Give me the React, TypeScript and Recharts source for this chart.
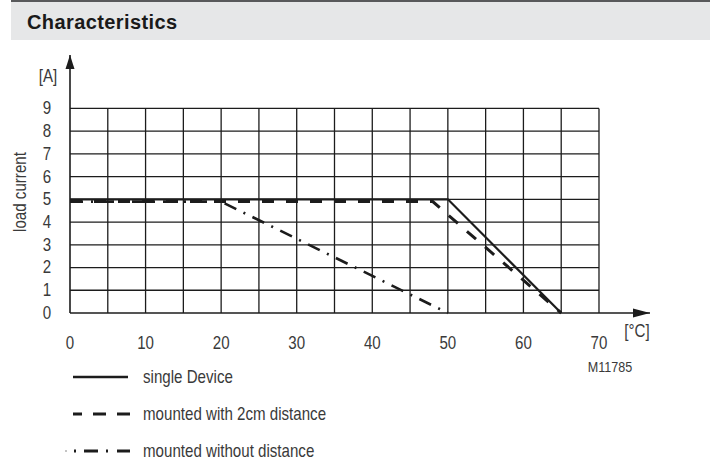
import { Legend, Line, LineChart, ReferenceDot, ReferenceLine, XAxis, YAxis } from "recharts";

// temperature ticks [°C] and current ticks [A]
const tempTicks = [0, 10, 20, 30, 40, 50, 60, 70];
const currentTicks = [0, 1, 2, 3, 4, 5, 6, 7, 8, 9];
const gridTemps = [5, 10, 15, 20, 25, 30, 35, 40, 45, 50, 55, 60, 65, 70];
const gridCurrents = [1, 2, 3, 4, 5, 6, 7, 8, 9];

// derating curves: t = ambient temperature, a = load current
const singleDevice = [
  { t: 0, a: 5 },
  { t: 50, a: 5 },
  { t: 65, a: 0 },
];
const with2cm = [
  { t: 0, a: 4.9 },
  { t: 48, a: 4.9 },
  { t: 65, a: 0 },
];
const withoutDistance = [
  { t: 0, a: 4.9 },
  { t: 20, a: 4.9 },
  { t: 50, a: 0 },
];

const seriesNames = ["single Device", "mounted with 2cm distance", "mounted without distance"];

const X_MAX = 76.75;
const Y_MAX = 11.35;
const GRID_T = 70;
const GRID_A = 9;

// no condensed font installed: squeeze Liberation Sans horizontally
const FONT = '"Liberation Sans", Arial, sans-serif';
const SQUEEZE = 0.84;
const INK = "#1c1c1c";
const TEXT = "#3a3a3a";

const SERIES_STYLE: Record<string, { dash?: string; width: number; legendDash?: string }> = {
  "single Device": { width: 2.2 },
  "mounted with 2cm distance": { dash: "12 12", width: 3, legendDash: "9 11 13 11 13" },
  "mounted without distance": { dash: "13 8 2 8", width: 2.6, legendDash: "2 8 14 8 2 9 13" },
};

function NarrowText({ x, y, children, anchor = "middle", size = 18, rotate = 0 }: any) {
  return (
    <text
      transform={`translate(${x} ${y}) rotate(${rotate}) scale(${SQUEEZE} 1)`}
      textAnchor={anchor}
      dominantBaseline="central"
      fontSize={size}
      fill={TEXT}
      fontFamily={FONT}
    >
      {children}
    </text>
  );
}

function renderLegend(props: any) {
  const payload = props.payload ?? [];
  const entries = seriesNames.filter((n) => payload.some((p: any) => p.value === n));
  return (
    <svg
      width={320}
      height={100}
      style={{ position: "absolute", left: 0, top: 360, overflow: "visible" }}
    >
      {entries.map((name, i) => {
        const y = 17 + i * 37;
        const st = SERIES_STYLE[name];
        return (
          <g key={name}>
            {i === 2 && <circle cx={66} cy={y} r={1} fill={INK} opacity={0.35} />}
            <line
              x1={i === 2 ? 74 : 73}
              x2={i === 0 ? 128 : 130}
              y1={y}
              y2={y}
              stroke={INK}
              strokeWidth={i === 0 ? 2.3 : 3}
              strokeDasharray={st.legendDash}
            />
            <NarrowText x={143} y={y} anchor="start">
              {name}
            </NarrowText>
          </g>
        );
      })}
    </svg>
  );
}

const xTick = ({ x, y, payload }: any) => (
  <NarrowText x={x} y={y + 30}>
    {payload.value}
  </NarrowText>
);

const yTick = ({ x, y, payload }: any) => (
  <NarrowText x={x - 23} y={y}>
    {payload.value}
  </NarrowText>
);

const yLabel = ({ viewBox }: any) => {
  const { x, y } = viewBox;
  return (
    <g>
      <NarrowText x={x + 48} y={y + 21}>
        [A]
      </NarrowText>
      <NarrowText x={x + 20} y={y + 137} rotate={-90}>
        load current
      </NarrowText>
    </g>
  );
};

const xLabel = ({ viewBox }: any) => {
  const { x, y, width } = viewBox;
  return (
    <g>
      <NarrowText x={x + width - 13} y={y + 18}>
        [°C]
      </NarrowText>
      <NarrowText x={x + width - 40} y={y + 54} size={15}>
        M11785
      </NarrowText>
    </g>
  );
};

const arrowRight = ({ cx, cy }: any) => (
  <polygon points={`${cx},${cy} ${cx - 17},${cy - 4.5} ${cx - 17},${cy + 4.5}`} fill={INK} />
);
const arrowUp = ({ cx, cy }: any) => (
  <polygon points={`${cx},${cy} ${cx - 4.5},${cy + 14} ${cx + 4.5},${cy + 14}`} fill={INK} />
);

export default function App() {
  const seriesData = [singleDevice, with2cm, withoutDistance];
  return (
    <div style={{ position: "absolute", left: 0, top: 0, width: 713, height: 462, background: "#fff" }}>
      <LineChart
        width={713}
        height={462}
        margin={{ top: 55, right: 63, bottom: 119, left: 0 }}
        style={{ position: "absolute", left: 0, top: 0 }}
      >
        <XAxis
          type="number"
          dataKey="t"
          domain={[0, X_MAX]}
          ticks={tempTicks}
          interval={0}
          height={30}
          tickSize={0}
          tickMargin={0}
          tick={xTick}
          axisLine={{ stroke: INK, strokeWidth: 1.6 }}
          label={xLabel}
        />
        <YAxis
          type="number"
          dataKey="a"
          domain={[0, Y_MAX]}
          ticks={currentTicks}
          interval={0}
          width={70}
          tickSize={0}
          tickMargin={0}
          tick={yTick}
          axisLine={{ stroke: INK, strokeWidth: 1.6 }}
          label={yLabel}
        />
        {gridCurrents.map((a) => (
          <ReferenceLine
            key={`h${a}`}
            segment={[
              { x: 0, y: a },
              { x: GRID_T, y: a },
            ]}
            stroke={INK}
            strokeWidth={1.3}
          />
        ))}
        {gridTemps.map((t) => (
          <ReferenceLine
            key={`v${t}`}
            segment={[
              { x: t, y: 0 },
              { x: t, y: GRID_A },
            ]}
            stroke={INK}
            strokeWidth={1.3}
          />
        ))}
        <ReferenceDot x={X_MAX} y={0} ifOverflow="visible" shape={arrowRight} />
        <ReferenceDot x={0} y={Y_MAX} ifOverflow="visible" shape={arrowUp} />
        {seriesNames.map((name, i) => (
          <Line
            key={name}
            name={name}
            data={seriesData[i]}
            dataKey="a"
            type="linear"
            stroke={INK}
            strokeWidth={SERIES_STYLE[name].width}
            strokeDasharray={SERIES_STYLE[name].dash}
            dot={false}
            activeDot={false}
            isAnimationActive={false}
          />
        ))}
        <Legend content={renderLegend} wrapperStyle={{ left: 0, top: 0, width: 0, height: 0 }} />
      </LineChart>
      <div
        style={{
          position: "absolute",
          left: 11,
          top: 0,
          width: 699,
          height: 40,
          background: "#e6e7e8",
          borderTop: "2px solid #58595b",
          fontFamily: '"Liberation Sans", Arial, sans-serif',
          fontWeight: 700,
          fontSize: 20,
          letterSpacing: 0.4,
          color: "#1a1a1a",
          lineHeight: "40px",
          paddingLeft: 16,
          boxSizing: "border-box",
        }}
      >
        Characteristics
      </div>
    </div>
  );
}
